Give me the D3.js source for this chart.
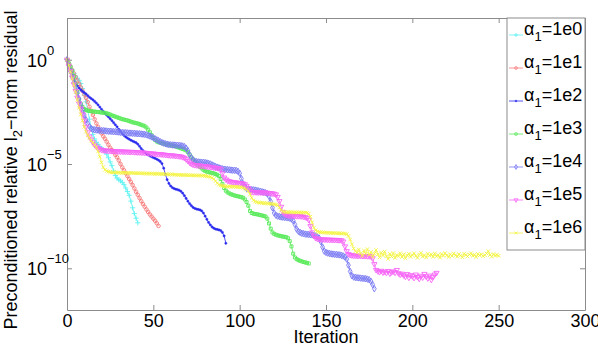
<!DOCTYPE html>
<html>
<head>
<meta charset="utf-8">
<script src="https://cdn.jsdelivr.net/npm/d3@7"></script>
<style>
  body { margin: 0; background: #fff; }
  svg text { font-family: "Liberation Sans", Arial, Helvetica, sans-serif; }
</style>
</head>
<body>
<div id="chart-container"></div>
<script>
// log10 of the preconditioned relative residual, one value per iteration (starting at 0)
const res1e0 = [0,-0.18,-0.35,-0.52,-0.66,-0.78,-0.89,-0.99,-1.14,-1.38,
  -1.70,-2.02,-2.42,-2.85,-3.26,-3.58,-3.80,-3.96,-4.06,-4.16,
  -4.25,-4.31,-4.40,-4.53,-4.70,-4.90,-5.08,-5.33,-5.55,-5.68,
  -5.75,-5.81,-5.88,-5.99,-6.15,-6.32,-6.50,-6.78,-7.10,-7.38,
  -7.60,-7.82];

const res1e1 = [0,-0.17,-0.33,-0.50,-0.66,-0.83,-0.99,-1.16,-1.33,-1.49,
  -1.66,-1.83,-2.03,-2.25,-2.45,-2.65,-2.86,-3.05,-3.22,-3.38,
  -3.53,-3.67,-3.79,-3.93,-4.08,-4.22,-4.33,-4.43,-4.56,-4.68,
  -4.83,-5.00,-5.16,-5.30,-5.44,-5.58,-5.72,-5.86,-6.01,-6.17,
  -6.33,-6.48,-6.63,-6.78,-6.92,-7.05,-7.18,-7.30,-7.42,-7.52,
  -7.62,-7.72,-7.84,-7.97];

const res1e2 = [0,-0.25,-0.50,-0.75,-0.98,-1.13,-1.25,-1.36,-1.45,-1.52,
  -1.58,-1.64,-1.72,-1.80,-1.86,-1.92,-2.00,-2.08,-2.17,-2.27,
  -2.38,-2.48,-2.58,-2.66,-2.74,-2.83,-2.92,-3.02,-3.12,-3.22,
  -3.34,-3.45,-3.55,-3.63,-3.70,-3.76,-3.81,-3.86,-3.90,-3.94,
  -3.98,-4.05,-4.15,-4.26,-4.36,-4.44,-4.51,-4.56,-4.61,-4.65,
  -4.69,-4.73,-4.77,-4.82,-4.88,-4.98,-5.20,-5.50,-5.75,-5.93,
  -6.05,-6.13,-6.18,-6.21,-6.23,-6.26,-6.31,-6.40,-6.52,-6.65,
  -6.78,-6.90,-7.00,-7.08,-7.13,-7.16,-7.18,-7.20,-7.25,-7.35,
  -7.50,-7.65,-7.80,-7.92,-8.02,-8.08,-8.12,-8.14,-8.16,-8.19,
  -8.28,-8.45,-8.80];

const res1e3 = [0,-0.17,-0.33,-0.52,-0.80,-1.15,-1.55,-1.90,-2.12,-2.27,
  -2.36,-2.41,-2.44,-2.46,-2.47,-2.48,-2.49,-2.50,-2.51,-2.52,
  -2.53,-2.54,-2.55,-2.57,-2.60,-2.63,-2.67,-2.70,-2.73,-2.76,
  -2.79,-2.82,-2.85,-2.87,-2.89,-2.91,-2.94,-2.97,-3.00,-3.02,
  -3.04,-3.06,-3.09,-3.12,-3.15,-3.19,-3.25,-3.35,-3.48,-3.62,
  -3.75,-3.85,-3.92,-3.96,-3.98,-4.00,-4.02,-4.04,-4.06,-4.08,
  -4.09,-4.11,-4.13,-4.16,-4.19,-4.22,-4.25,-4.28,-4.31,-4.35,
  -4.43,-4.55,-4.68,-4.78,-4.88,-4.98,-5.07,-5.14,-5.21,-5.28,
  -5.33,-5.37,-5.39,-5.41,-5.43,-5.45,-5.48,-5.52,-5.58,-5.72,
  -5.95,-6.15,-6.28,-6.36,-6.41,-6.45,-6.48,-6.51,-6.53,-6.55,
  -6.57,-6.59,-6.62,-6.70,-6.82,-7.00,-7.25,-7.35,-7.38,-7.40,
  -7.41,-7.43,-7.45,-7.47,-7.49,-7.52,-7.62,-7.85,-8.10,-8.28,
  -8.35,-8.39,-8.42,-8.44,-8.46,-8.48,-8.49,-8.51,-8.56,-8.70,
  -8.95,-9.30,-9.48,-9.56,-9.61,-9.64,-9.67,-9.70,-9.72,-9.74,
  -9.77];

const res1e4 = [0,-0.28,-0.55,-0.82,-1.08,-1.34,-1.61,-1.88,-2.15,-2.40,
  -2.65,-2.88,-3.06,-3.20,-3.30,-3.34,-3.36,-3.37,-3.38,-3.39,
  -3.40,-3.40,-3.41,-3.42,-3.43,-3.43,-3.44,-3.45,-3.45,-3.46,
  -3.47,-3.48,-3.49,-3.50,-3.50,-3.51,-3.52,-3.52,-3.53,-3.53,
  -3.54,-3.55,-3.55,-3.56,-3.57,-3.58,-3.60,-3.63,-3.66,-3.70,
  -3.74,-3.79,-3.84,-3.88,-3.93,-3.97,-4.00,-4.03,-4.05,-4.07,
  -4.08,-4.09,-4.09,-4.10,-4.10,-4.11,-4.12,-4.14,-4.17,-4.24,
  -4.36,-4.55,-4.70,-4.80,-4.86,-4.89,-4.90,-4.91,-4.92,-4.92,
  -4.93,-4.95,-4.97,-5.00,-5.04,-5.08,-5.12,-5.15,-5.18,-5.21,
  -5.23,-5.25,-5.26,-5.27,-5.28,-5.29,-5.30,-5.30,-5.31,-5.35,
  -5.44,-5.70,-5.95,-6.10,-6.17,-6.20,-6.22,-6.23,-6.24,-6.25,
  -6.27,-6.29,-6.31,-6.33,-6.35,-6.38,-6.42,-6.55,-6.80,-7.10,
  -7.35,-7.46,-7.50,-7.52,-7.54,-7.55,-7.56,-7.57,-7.58,-7.60,
  -7.64,-7.72,-7.90,-8.12,-8.23,-8.28,-8.32,-8.34,-8.36,-8.37,
  -8.38,-8.39,-8.40,-8.42,-8.45,-8.49,-8.55,-8.72,-8.98,-9.18,
  -9.24,-9.27,-9.29,-9.31,-9.32,-9.33,-9.34,-9.35,-9.36,-9.38,
  -9.41,-9.46,-9.56,-9.85,-10.15,-10.36,-10.42,-10.44,-10.45,-10.46,
  -10.47,-10.48,-10.49,-10.50,-10.52,-10.55,-10.62,-10.78,-10.98];

const res1e5 = [0,-0.28,-0.55,-0.85,-1.18,-1.50,-1.82,-2.10,-2.35,-2.62,
  -2.92,-3.22,-3.48,-3.68,-3.82,-3.96,-4.08,-4.17,-4.24,-4.29,
  -4.32,-4.34,-4.35,-4.36,-4.37,-4.37,-4.38,-4.38,-4.39,-4.39,
  -4.40,-4.40,-4.40,-4.41,-4.41,-4.41,-4.42,-4.42,-4.42,-4.43,
  -4.43,-4.44,-4.44,-4.45,-4.45,-4.46,-4.47,-4.48,-4.49,-4.50,
  -4.50,-4.51,-4.52,-4.53,-4.53,-4.54,-4.55,-4.56,-4.57,-4.58,
  -4.59,-4.59,-4.60,-4.61,-4.62,-4.63,-4.64,-4.67,-4.71,-4.77,
  -4.85,-4.93,-4.99,-5.03,-5.05,-5.06,-5.07,-5.08,-5.09,-5.10,
  -5.11,-5.12,-5.13,-5.14,-5.15,-5.17,-5.18,-5.19,-5.21,-5.25,
  -5.45,-5.65,-5.74,-5.80,-5.83,-5.85,-5.87,-5.88,-5.89,-5.90,
  -5.91,-5.92,-5.94,-5.97,-6.05,-6.16,-6.26,-6.33,-6.35,-6.35,
  -6.36,-6.36,-6.36,-6.37,-6.37,-6.37,-6.38,-6.39,-6.40,-6.41,
  -6.43,-6.46,-6.58,-6.78,-7.05,-7.30,-7.40,-7.44,-7.46,-7.48,
  -7.48,-7.49,-7.49,-7.50,-7.50,-7.50,-7.51,-7.53,-7.55,-7.58,
  -7.68,-7.98,-8.28,-8.45,-8.55,-8.58,-8.60,-8.61,-8.62,-8.62,
  -8.62,-8.63,-8.63,-8.63,-8.64,-8.64,-8.64,-8.65,-8.65,-8.66,
  -8.72,-8.95,-9.18,-9.32,-9.36,-9.38,-9.39,-9.39,-9.40,-9.40,
  -9.40,-9.41,-9.41,-9.41,-9.42,-9.42,-9.43,-9.52,-9.80,-10.08,
  -10.14,-10.18,-10.12,-10.20,-10.16,-10.22,-10.13,-10.25,-10.19,-10.15,
  -10.21,-10.08,-10.24,-10.30,-10.26,-10.34,-10.40,-10.28,-10.45,-10.33,
  -10.38,-10.46,-10.30,-10.42,-10.50,-10.36,-10.44,-10.27,-10.39,-10.48,
  -10.35,-10.55,-10.41,-10.30,-10.22];

const res1e6 = [0,-0.28,-0.58,-0.90,-1.20,-1.55,-1.92,-2.30,-2.62,-2.92,
  -3.22,-3.45,-3.62,-3.76,-3.88,-3.98,-4.08,-4.20,-4.40,-4.65,
  -4.92,-5.15,-5.28,-5.34,-5.37,-5.39,-5.40,-5.40,-5.41,-5.41,
  -5.41,-5.42,-5.42,-5.42,-5.42,-5.43,-5.43,-5.43,-5.43,-5.44,
  -5.44,-5.44,-5.44,-5.45,-5.45,-5.45,-5.46,-5.46,-5.46,-5.46,
  -5.47,-5.47,-5.47,-5.47,-5.48,-5.48,-5.48,-5.49,-5.49,-5.50,
  -5.50,-5.50,-5.51,-5.51,-5.52,-5.52,-5.53,-5.53,-5.53,-5.53,
  -5.54,-5.54,-5.54,-5.54,-5.55,-5.55,-5.55,-5.55,-5.56,-5.56,
  -5.57,-5.58,-5.60,-5.62,-5.66,-5.72,-5.82,-5.92,-5.99,-6.03,
  -6.05,-6.06,-6.07,-6.08,-6.08,-6.09,-6.09,-6.09,-6.10,-6.10,
  -6.11,-6.12,-6.14,-6.18,-6.23,-6.30,-6.45,-6.62,-6.74,-6.80,
  -6.83,-6.85,-6.86,-6.87,-6.88,-6.88,-6.89,-6.90,-6.91,-6.92,
  -6.93,-6.95,-6.98,-7.08,-7.22,-7.28,-7.30,-7.31,-7.31,-7.31,
  -7.31,-7.32,-7.32,-7.32,-7.32,-7.32,-7.33,-7.33,-7.33,-7.34,
  -7.38,-7.52,-7.80,-8.05,-8.18,-8.24,-8.26,-8.27,-8.28,-8.29,
  -8.29,-8.30,-8.30,-8.31,-8.31,-8.31,-8.32,-8.32,-8.32,-8.33,
  -8.33,-8.34,-8.36,-8.45,-8.62,-8.85,-9.05,-9.18,-9.25,-9.10,
  -9.28,-9.40,-9.15,-9.30,-9.08,-9.35,-9.22,-9.45,-9.30,-9.12,
  -9.33,-9.48,-9.25,-9.38,-9.20,-9.42,-9.55,-9.31,-9.44,-9.27,
  -9.50,-9.36,-9.42,-9.28,-9.46,-9.33,-9.52,-9.38,-9.30,-9.45,
  -9.36,-9.28,-9.41,-9.50,-9.34,-9.26,-9.44,-9.37,-9.48,-9.30,
  -9.39,-9.33,-9.45,-9.29,-9.42,-9.36,-9.49,-9.31,-9.40,-9.27,
  -9.38,-9.46,-9.33,-9.41,-9.29,-9.37,-9.44,-9.32,-9.39,-9.47,
  -9.30,-9.36,-9.43,-9.34,-9.28,-9.40,-9.35,-9.46,-9.31,-9.38,
  -9.33,-9.42,-9.37,-9.29,-9.18,-9.36,-9.44,-9.32,-9.39,-9.35,
  -9.40];

const seriesLabels = ["1e0", "1e1", "1e2", "1e3", "1e4", "1e5", "1e6"];
const xTicks = [0, 50, 100, 150, 200, 250, 300];
const yTicks = [1e0, 1e-5, 1e-10];
const yTickExponents = ["0", "\u22125", "\u221210"];

// drawing style for each series (colour, marker)
const styles = [
  { color: "#5ff3f3", symbol: d3.symbolPlus, size: 10, fill: false },
  { color: "#f67a7a", symbol: d3.symbolCircle, size: 10, fill: false },
  { color: "#2a2aee", symbol: d3.symbolCircle, size: 4, fill: true },
  { color: "#58ea58", symbol: d3.symbolSquare, size: 9, fill: false },
  { color: "#7878f3", symbol: d3.symbolDiamond, size: 12, fill: false },
  { color: "#f664f6", symbol: d3.symbolTriangle, size: 12, fill: false, rotate: 180 },
  { color: "#f4f444", symbol: d3.symbolTimes, size: 10, fill: false }
];

const allSeries = [res1e0, res1e1, res1e2, res1e3, res1e4, res1e5, res1e6];

const width = 598;
const height = 346;
const plot = { left: 67, right: 585, top: 18, bottom: 310 };
const fontSize = 18;

const svg = d3.select("#chart-container")
  .append("svg")
  .attr("width", width)
  .attr("height", height);

const x = d3.scaleLinear().domain([0, 300]).range([plot.left, plot.right]);
const y = d3.scaleLog().domain([1e-12, 1e2]).range([plot.bottom, plot.top]);

// Data lines and markers
allSeries.forEach((vals, i) => {
  const st = styles[i];
  const pts = vals.map((e, it) => ({ it: it, r: Math.pow(10, e) }));
  const g = svg.append("g");

  g.append("path")
    .datum(pts)
    .attr("fill", "none")
    .attr("stroke", st.color)
    .attr("stroke-width", 0.8)
    .attr("d", d3.line().x(d => x(d.it)).y(d => y(d.r)));

  const sym = d3.symbol().type(st.symbol).size(st.size);
  g.selectAll(".mk")
    .data(pts)
    .enter().append("path")
    .attr("class", "mk")
    .attr("transform", d => "translate(" + x(d.it) + "," + y(d.r) + ")" + (st.rotate ? " rotate(" + st.rotate + ")" : ""))
    .attr("d", sym)
    .attr("fill", st.fill ? st.color : "none")
    .attr("stroke", st.color)
    .attr("stroke-width", st.fill ? 0.5 : 0.9);
});

// Box axes with inward ticks
const axisColor = "#8c8c8c";

const xAxis = svg.append("g")
  .attr("transform", "translate(0," + plot.bottom + ")")
  .call(d3.axisBottom(x).tickValues(xTicks).tickSizeInner(-5).tickSizeOuter(0).tickPadding(4));

svg.append("g")
  .attr("transform", "translate(0," + plot.top + ")")
  .call(d3.axisTop(x).tickValues(xTicks).tickSizeInner(-5).tickSizeOuter(0).tickFormat(""));

svg.append("g")
  .attr("transform", "translate(" + plot.left + ",0)")
  .call(d3.axisLeft(y).tickValues(yTicks).tickSizeInner(-5).tickSizeOuter(0).tickFormat(""));

svg.append("g")
  .attr("transform", "translate(" + plot.right + ",0)")
  .call(d3.axisRight(y).tickValues(yTicks).tickSizeInner(-5).tickSizeOuter(0).tickFormat(""));

svg.selectAll(".domain").attr("stroke", axisColor);
svg.selectAll(".tick line").attr("stroke", axisColor);

xAxis.selectAll("text")
  .attr("font-size", fontSize)
  .attr("font-family", "Liberation Sans, Arial, sans-serif")
  .attr("fill", "#000");

// y tick labels as 10^n
yTicks.forEach((v, i) => {
  const t = svg.append("text")
    .attr("x", 27)
    .attr("y", y(v) + 7)
    .attr("font-size", fontSize)
    .attr("fill", "#000");
  t.append("tspan").text("10");
  t.append("tspan")
    .attr("font-size", 13)
    .attr("dy", -12)
    .text(yTickExponents[i]);
});

// Axis titles
svg.append("text")
  .attr("x", (plot.left + plot.right) / 2)
  .attr("y", 343)
  .attr("text-anchor", "middle")
  .attr("font-size", fontSize)
  .attr("fill", "#000")
  .text("Iteration");

const yl = svg.append("text")
  .attr("transform", "translate(16.5,170) rotate(-90)")
  .attr("text-anchor", "middle")
  .attr("font-size", fontSize)
  .attr("fill", "#000");
yl.append("tspan").text("Preconditioned relative l");
yl.append("tspan").attr("font-size", 13).attr("dy", 5).text("2");
yl.append("tspan").attr("dy", -5).text("\u2212norm residual");

// Legend
const legend = svg.append("g");
legend.append("rect")
  .attr("x", 507)
  .attr("y", plot.top)
  .attr("width", plot.right - 507)
  .attr("height", 232)
  .attr("fill", "#fff")
  .attr("stroke", axisColor);

seriesLabels.forEach((lab, i) => {
  const st = styles[i];
  const ry = 35 + 33 * i;
  legend.append("line")
    .attr("x1", 509).attr("x2", 523)
    .attr("y1", ry).attr("y2", ry)
    .attr("stroke", st.color)
    .attr("stroke-width", 0.8);
  legend.append("path")
    .attr("transform", "translate(516," + ry + ")" + (st.rotate ? " rotate(" + st.rotate + ")" : ""))
    .attr("d", d3.symbol().type(st.symbol).size(st.size * 0.6))
    .attr("fill", st.fill ? st.color : "none")
    .attr("stroke", st.color)
    .attr("stroke-width", st.fill ? 0.5 : 0.8);
  const t = legend.append("text")
    .attr("x", 524)
    .attr("y", ry)
    .attr("font-size", fontSize)
    .attr("fill", "#000");
  t.append("tspan").text("\u03b1");
  t.append("tspan").attr("font-size", 13).attr("dy", 6).text("1");
  t.append("tspan").attr("dy", -6).text("=" + lab);
});
</script>
</body>
</html>
